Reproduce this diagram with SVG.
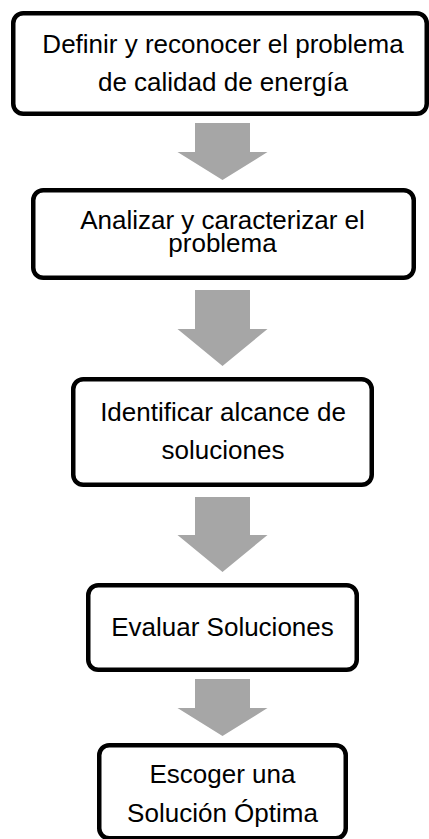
<svg xmlns="http://www.w3.org/2000/svg" width="429" height="839" viewBox="0 0 429 839">
<style>
.box{fill:#fff;stroke:#000;stroke-width:4.5}
.arr{fill:#a6a6a6}
text{font-family:"Liberation Sans",Arial,sans-serif;font-size:26px;fill:#000;text-anchor:middle}
</style>
<rect width="429" height="839" fill="#fff"/>
<g id="connectors">
<polygon class="arr" points="195,123 250,123 250,152 267.5,152 222.5,180 177.5,152 195,152"/>
<polygon class="arr" points="195,290 250,290 250,329 267.5,329 222.5,366 177.5,329 195,329"/>
<polygon class="arr" points="195,497 250,497 250,535 267.5,535 222.5,572 177.5,535 195,535"/>
<polygon class="arr" points="195,679 250,679 250,708 267.5,708 222.5,736 177.5,708 195,708"/>
</g>
<g id="n1">
<rect class="box" x="13.25" y="13.25" width="413.5" height="100.5" rx="10"/>
<text x="223" y="53.3">Definir y reconocer el problema</text>
<text x="223" y="90.7">de calidad de energía</text>
</g>
<g id="n2">
<rect class="box" x="33.25" y="190.25" width="380.5" height="87.5" rx="10"/>
<text x="222.5" y="229.3">Analizar y caracterizar el</text>
<text x="222.5" y="251.7">problema</text>
</g>
<g id="n3">
<rect class="box" x="73.25" y="379.25" width="298.5" height="105.5" rx="10"/>
<text x="223" y="421">Identificar alcance de</text>
<text x="223" y="459.3">soluciones</text>
</g>
<g id="n4">
<rect class="box" x="88.25" y="585.25" width="268.5" height="84.5" rx="10"/>
<text x="222.5" y="636">Evaluar Soluciones</text>
</g>
<g id="n5">
<rect class="box" x="99.25" y="745.25" width="246.5" height="93" rx="10"/>
<text x="222.5" y="782.7">Escoger una</text>
<text x="222.5" y="821.7">Solución Óptima</text>
</g>
</svg>
